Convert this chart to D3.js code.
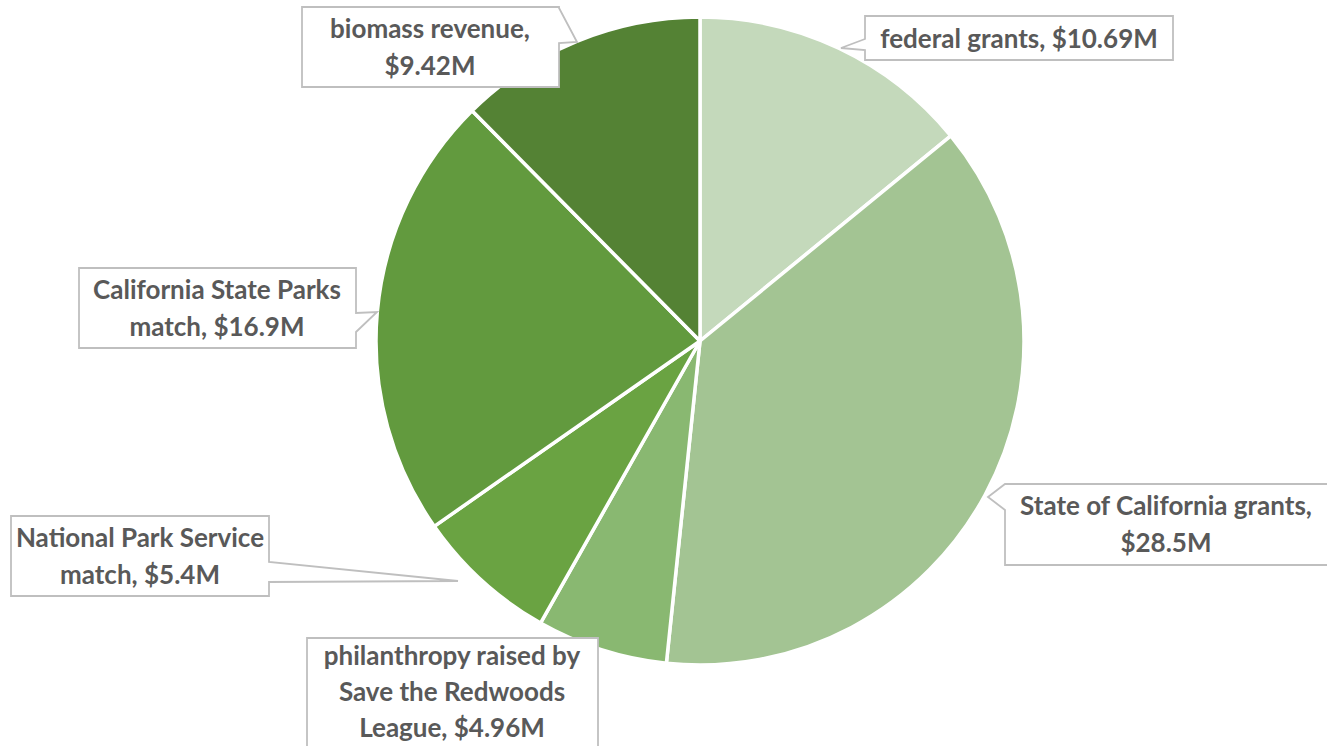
<!DOCTYPE html>
<html>
<head>
<meta charset="utf-8">
<script src="https://cdn.jsdelivr.net/npm/d3@7"></script>
<style>
  html, body { margin: 0; padding: 0; background: #ffffff; }
  svg { display: block; }
  text { font-family: Lato, "Open Sans", sans-serif; font-weight: 700; fill: #595959; }
</style>
</head>
<body>
<svg id="chart" width="1327" height="746"></svg>
<script>
// ---- data ----
const categories = [
  "federal grants",
  "State of California grants",
  "philanthropy raised by Save the Redwoods League",
  "National Park Service match",
  "California State Parks match",
  "biomass revenue"
];
const values = [10.69, 28.5, 4.96, 5.4, 16.9, 9.42];
const valueLabels = ["$10.69M", "$28.5M", "$4.96M", "$5.4M", "$16.9M", "$9.42M"];
const labelLines = [
  ["federal grants, $10.69M"],
  ["State of California grants,", "$28.5M"],
  ["philanthropy raised by", "Save the Redwoods", "League, $4.96M"],
  ["National Park Service", "match, $5.4M"],
  ["California State Parks", "match, $16.9M"],
  ["biomass revenue,", "$9.42M"]
];
const colors = ["#c4d9bb", "#a3c493", "#89b871", "#6aa342", "#629a3e", "#548234"];

// ---- layout (callout boxes) ----
const boxes = [
  {x0: 865, y0: 16, x1: 1173, y1: 60, side: "left", a: 39, b: 50, tip: [841, 48], tx: 1019},
  {x0: 1005, y0: 484, x1: 1332, y1: 565, side: "left", a: 484, b: 510, tip: [988, 497], tx: 1166},
  {x0: 307, y0: 638, x1: 598, y1: 760, side: null, tx: 452},
  {x0: 11, y0: 516, x1: 269, y1: 596, side: "right", a: 562, b: 582, tip: [458, 581], tx: 140},
  {x0: 79, y0: 268, x1: 356, y1: 348, side: "right", a: 313, b: 332, tip: [377, 312], tx: 217},
  {x0: 302, y0: 7, x1: 559, y1: 87, side: "right", a: 8, b: 43, tip: [577, 42], tx: 430}
];

const svg = d3.select("#chart");
const cx = 700, cy = 341, r = 324;

const pie = d3.pie().sort(null).value(d => d)(values);
const arc = d3.arc().innerRadius(0).outerRadius(r);

const g = svg.append("g").attr("transform", `translate(${cx},${cy})`);
g.selectAll("path.slice")
  .data(pie)
  .join("path")
  .attr("class", "slice")
  .attr("d", arc)
  .attr("fill", (d, i) => colors[i])
  .attr("stroke", "#ffffff")
  .attr("stroke-width", 3.5)
  .attr("stroke-linejoin", "round");

function calloutPath(b) {
  const p = d3.path();
  if (b.side === "left") {
    p.moveTo(b.x0, b.y0);
    p.lineTo(b.x1, b.y0);
    p.lineTo(b.x1, b.y1);
    p.lineTo(b.x0, b.y1);
    p.lineTo(b.x0, b.b);
    p.lineTo(b.tip[0], b.tip[1]);
    p.lineTo(b.x0, b.a);
    p.closePath();
  } else if (b.side === "right") {
    p.moveTo(b.x0, b.y0);
    p.lineTo(b.x1, b.y0);
    p.lineTo(b.x1, b.a);
    p.lineTo(b.tip[0], b.tip[1]);
    p.lineTo(b.x1, b.b);
    p.lineTo(b.x1, b.y1);
    p.lineTo(b.x0, b.y1);
    p.closePath();
  } else {
    p.rect(b.x0, b.y0, b.x1 - b.x0, b.y1 - b.y0);
  }
  return p.toString();
}

const fontSize = 26;
const lineH = 37;

const labels = svg.selectAll("g.callout")
  .data(boxes)
  .join("g")
  .attr("class", "callout");

labels.append("path")
  .attr("d", d => calloutPath(d))
  .attr("fill", "#ffffff")
  .attr("stroke", "#bfbfbf")
  .attr("stroke-width", 1.8);

labels.each(function(b, i) {
  const lines = labelLines[i];
  const t = d3.select(this).append("text")
    .attr("text-anchor", "middle")
    .attr("font-size", fontSize);
  let firstBase = lines.length === 1 ? (b.y0 + b.y1) / 2 + 9.5 : b.y0 + 31;
  if (lines.length === 3) firstBase = b.y0 + 27;
  lines.forEach((ln, k) => {
    t.append("tspan")
      .attr("x", b.tx)
      .attr("y", firstBase + k * (lines.length === 3 ? 36 : lineH))
      .text(ln);
  });
});
</script>
</body>
</html>
